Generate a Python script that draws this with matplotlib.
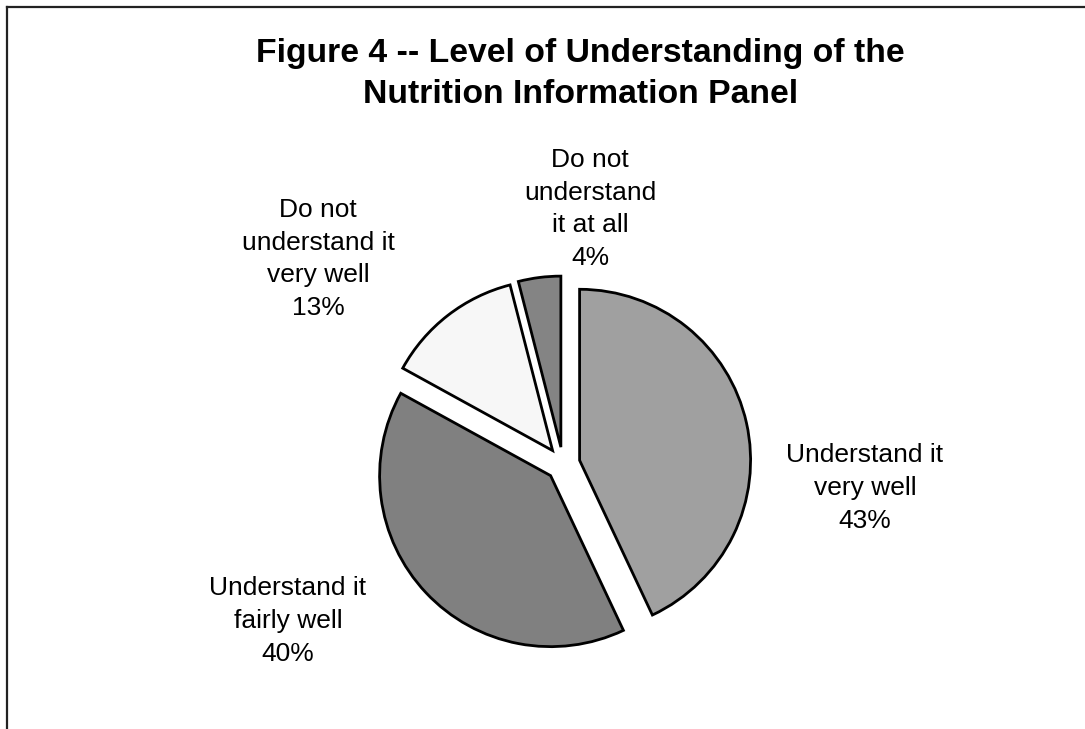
import matplotlib.pyplot as plt
from matplotlib.lines import Line2D

# Survey results: understanding of the nutrition information panel
categories = ["Understand it\nvery well", "Understand it\nfairly well",
              "Do not\nunderstand it\nvery well", "Do not\nunderstand\nit at all"]
percents = [43, 40, 13, 4]
colors = ["#a0a0a0", "#808080", "#f7f7f7", "#848484"]

# label centres in pixel coordinates (y measured from the bottom)
label_pos = [(865, 241), (288, 108), (318, 470), (590, 520)]

plt.rcParams["font.family"] = ["Liberation Sans", "DejaVu Sans"]

fig = plt.figure(figsize=(10.85, 7.29), dpi=100)
ax = fig.add_axes([0, 0, 1, 1])

wedges, texts = ax.pie(
    percents,
    labels=[f"{c}\n{p}%" for c, p in zip(categories, percents)],
    colors=colors,
    startangle=90,
    counterclock=False,
    center=(563, 265),
    radius=171,
    explode=[17] * len(percents),
    wedgeprops=dict(edgecolor="black", linewidth=2),
    textprops=dict(fontsize=19, ha="center", va="center", linespacing=1.47),
    frame=True,
)
ax.set_xlim(0, 1085)
ax.set_ylim(0, 729)
ax.set_aspect("equal")
ax.axis("off")

for t, pos in zip(texts, label_pos):
    t.set_position(pos)
    t.set_horizontalalignment("center")
    t.set_verticalalignment("center")

fig.text(0.535, 1 - 74 / 729,
         "Figure 4 -- Level of Understanding of the\nNutrition Information Panel",
         ha="center", va="center", fontsize=24.3, fontweight="bold", linespacing=1.45)

# chart-area border along the left and top edges
fig.add_artist(Line2D([6.5 / 1085, 6.5 / 1085], [0, 1 - 6.5 / 729],
                      transform=fig.transFigure, color="#222222", linewidth=1.6))
fig.add_artist(Line2D([6.5 / 1085, 1], [1 - 6.5 / 729, 1 - 6.5 / 729],
                      transform=fig.transFigure, color="#222222", linewidth=1.6))

fig.savefig("out.png", dpi=100, facecolor="white")
